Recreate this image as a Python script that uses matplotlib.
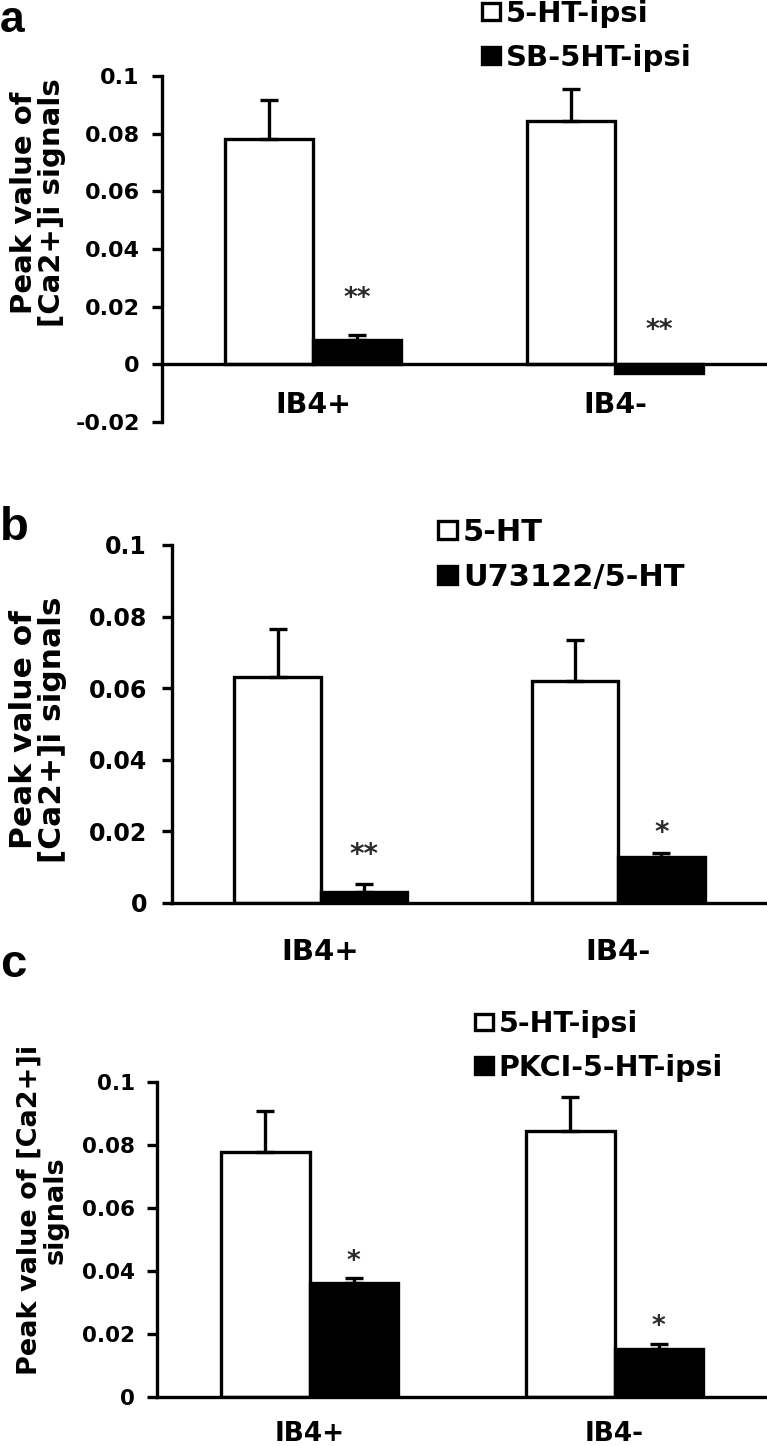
import matplotlib
matplotlib.use("Agg")
import matplotlib.pyplot as plt
import numpy as np

plt.rcParams['font.family'] = ['DejaVu Sans']
plt.rcParams['font.weight'] = 'bold'

categories = ["IB4+", "IB4-"]

# Panel a
a_white = [0.078, 0.0845]
a_white_err = [0.0137, 0.011]
a_black = [0.0084, -0.003]
a_black_err = [0.0017, 0.0]
a_labels = ["5-HT-ipsi", "SB-5HT-ipsi"]
a_stars = ["**", "**"]
a_star_y = [0.0225, 0.0114]
a_ticks = [-0.02, 0, 0.02, 0.04, 0.06, 0.08, 0.1]
a_ticklabels = ["-0.02", "0", "0.02", "0.04", "0.06", "0.08", "0.1"]

# Panel b
b_white = [0.0632, 0.0621]
b_white_err = [0.0133, 0.0114]
b_black = [0.0032, 0.0128]
b_black_err = [0.002, 0.0013]
b_labels = ["5-HT", "U73122/5-HT"]
b_stars = ["**", "*"]
b_star_y = [0.0134, 0.0196]
b_ticks = [0, 0.02, 0.04, 0.06, 0.08, 0.1]
b_ticklabels = ["0", "0.02", "0.04", "0.06", "0.08", "0.1"]

# Panel c
c_white = [0.0777, 0.0844]
c_white_err = [0.0132, 0.0109]
c_black = [0.0363, 0.0152]
c_black_err = [0.0014, 0.0016]
c_labels = ["5-HT-ipsi", "PKCI-5-HT-ipsi"]
c_stars = ["*", "*"]
c_star_y = [0.043, 0.0223]
c_ticks = [0, 0.02, 0.04, 0.06, 0.08, 0.1]
c_ticklabels = ["0", "0.02", "0.04", "0.06", "0.08", "0.1"]

W, H = 767, 1446
fig = plt.figure(figsize=(W / 100, H / 100), dpi=100)

def px_axes(left, right, top, bottom):
    return fig.add_axes([left / W, 1 - bottom / H, (right - left) / W, (bottom - top) / H])

LW = 2.4
BW = 0.29

def panel(ax, white, werr, black, berr, labels, stars, star_y, ticks, ticklabels,
          ylim, tick_pad, xlab_pad, tick_fs, xlab_fs, leg_anchor, leg_fs, leg_spacing, star_fs):
    x = np.arange(len(categories))
    bw = ax.bar(x - BW / 2, white, BW, color="white", edgecolor="black", linewidth=LW, zorder=2, label=labels[0])
    bb = ax.bar(x + BW / 2, black, BW, color="black", edgecolor="black", linewidth=LW, zorder=2, label=labels[1])
    ax.errorbar(x - BW / 2, white, yerr=[np.zeros(len(white)), werr], fmt="none", ecolor="black",
                elinewidth=LW, capsize=6.5, capthick=LW, zorder=3)
    for xi, v, e in zip(x + BW / 2, black, berr):
        if e > 0:
            ax.errorbar([xi], [v], yerr=[[0], [e]], fmt="none", ecolor="black",
                        elinewidth=LW, capsize=6.5, capthick=LW, zorder=3)
    for xi, s, sy in zip(x + BW / 2, stars, star_y):
        ax.text(xi, sy, s, ha="center", va="center", fontsize=star_fs, color="#2a2a2a",
                fontweight="bold")
    ax.set_xlim(-0.5, 1.5)
    ax.set_ylim(*ylim)
    ax.set_yticks(ticks)
    ax.set_yticklabels(ticklabels)
    ax.set_xticks(x)
    ax.set_xticklabels(categories)
    for s in ["top", "right"]:
        ax.spines[s].set_visible(False)
    ax.spines["left"].set_linewidth(LW)
    ax.spines["bottom"].set_linewidth(LW)
    ax.spines["bottom"].set_position(("data", 0))
    ax.spines["bottom"].set_zorder(4)
    ax.tick_params(axis="y", length=7, width=LW, pad=tick_pad, labelsize=tick_fs)
    ax.tick_params(axis="x", length=0, pad=xlab_pad, labelsize=xlab_fs)
    for t in ax.get_yticklabels() + ax.get_xticklabels():
        t.set_fontweight("bold")
    ax.patch.set_alpha(0)
    leg = ax.legend(handles=[bw, bb], labels=labels, loc="upper left",
                    bbox_to_anchor=(leg_anchor[0] / W, 1 - leg_anchor[1] / H),
                    bbox_transform=fig.transFigure, frameon=False,
                    handlelength=0.62, handleheight=0.52, handletextpad=0.2,
                    labelspacing=leg_spacing, borderpad=0, borderaxespad=0,
                    prop={"size": leg_fs, "weight": "bold"})
    return leg

# Panel a
axa = px_axes(162, 766, 76, 422)
panel(axa, a_white, a_white_err, a_black, a_black_err, a_labels, a_stars, a_star_y,
      a_ticks, a_ticklabels, (-0.02, 0.1), 9, 19, 16, 20.5, (482, 0), 21, 0.55, 19)
fig.text(38 / W, 1 - 203 / H, "Peak value of\n[Ca2+]i signals", rotation=90, ha="center",
         va="center", fontsize=21, fontweight="bold", multialignment="center", linespacing=1.0)
fig.text(0 / W, 1 - 32 / H, "a", fontsize=32, fontweight="bold", family="Liberation Sans",
         ha="left", va="baseline")

# Panel b
axb = px_axes(172, 767, 545, 903)
panel(axb, b_white, b_white_err, b_black, b_black_err, b_labels, b_stars, b_star_y,
      b_ticks, b_ticklabels, (0, 0.1), 11, 25, 17, 21, (438, 518), 22, 0.52, 20)
fig.text(38 / W, 1 - 730 / H, "Peak value of\n[Ca2+]i signals", rotation=90, ha="center",
         va="center", fontsize=22.5, fontweight="bold", multialignment="center", linespacing=1.0)
fig.text(0 / W, 1 - 540 / H, "b", fontsize=34, fontweight="bold", family="Liberation Sans",
         ha="left", va="baseline")

# Panel c
axc = px_axes(157, 767, 1082, 1397)
panel(axc, c_white, c_white_err, c_black, c_black_err, c_labels, c_stars, c_star_y,
      c_ticks, c_ticklabels, (0, 0.1), 9, 17, 15.5, 19, (475, 1010), 20.5, 0.55, 19)
fig.text(43 / W, 1 - 1210 / H, "Peak value of [Ca2+]i\nsignals", rotation=90, ha="center",
         va="center", fontsize=19.5, fontweight="bold", multialignment="center", linespacing=1.0)
fig.text(0 / W, 1 - 977 / H, "c", fontsize=34, fontweight="bold", family="Liberation Sans",
         ha="left", va="baseline")

fig.savefig("out.png", dpi=100)
